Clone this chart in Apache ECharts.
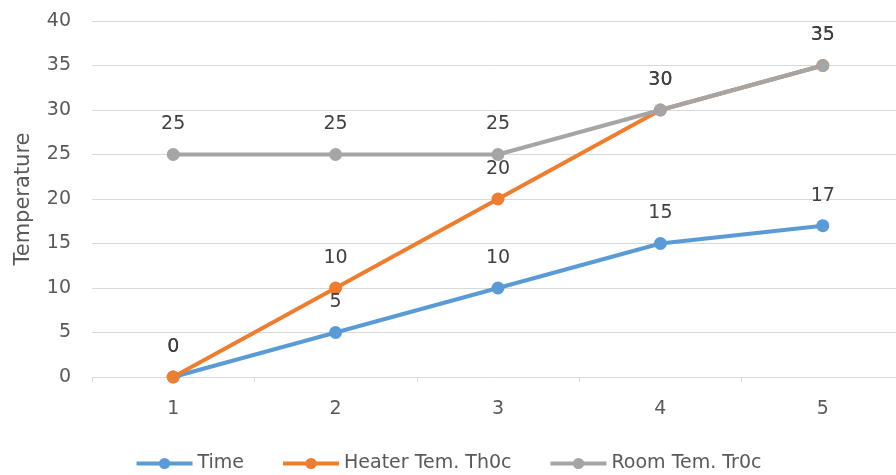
<!DOCTYPE html>
<html><head><meta charset="utf-8">
<script src="https://cdn.jsdelivr.net/npm/echarts@6/dist/echarts.min.js"></script>
<style>html,body{margin:0;padding:0;background:#fff}#c{width:896px;height:475px}</style>
</head><body><div id="c"></div>
<script>
const categories = ['1', '2', '3', '4', '5'];
const timeValues = [0, 5, 10, 15, 17];
const heaterValues = [0, 10, 20, 30, 35];
const roomValues = [25, 25, 25, 30, 35];
const seriesNames = ['Time', 'Heater Tem. Th0c', 'Room Tem. Tr0c'];
const colors = ['#5b9bd5', '#ed7d31', '#a5a5a5'];
const FONT = '"DejaVu Sans", sans-serif';

function mk(name, data, color) {
  return {
    name, type: 'line', data,
    symbol: 'circle', symbolSize: 13,
    lineStyle: { width: 4, color },
    itemStyle: { color },
    label: { show: true, position: 'top', distance: 14, fontSize: 19, color: '#404040', fontFamily: FONT },
    emphasis: { disabled: true },
    animation: false
  };
}
const chart = echarts.init(document.getElementById('c'));
chart.setOption({
  animation: false,
  color: colors,
  grid: { left: 92, right: -8, top: 21, bottom: 98, containLabel: false, outerBoundsMode: 'none' },
  legend: {
    top: 449, left: 'center', itemWidth: 56, itemHeight: 14, itemGap: 37,
    lineStyle: { width: 4 },
    textStyle: { fontSize: 19, color: '#595959', fontFamily: FONT }
  },
  xAxis: {
    type: 'category', data: categories, boundaryGap: true,
    axisLine: { lineStyle: { color: '#d9d9d9', width: 1 } },
    axisTick: { show: true, length: 5, lineStyle: { color: '#d9d9d9' } },
    axisLabel: { fontSize: 19, color: '#595959', margin: 23, fontFamily: FONT }
  },
  yAxis: {
    type: 'value', min: 0, max: 40, interval: 5,
    name: 'Temperature', nameLocation: 'middle', nameGap: 58, nameRotate: 90,
    nameTextStyle: { fontSize: 21, color: '#595959', fontFamily: FONT },
    axisLine: { show: false }, axisTick: { show: false },
    axisLabel: { fontSize: 19, color: '#595959', margin: 21, fontFamily: FONT },
    splitLine: { lineStyle: { color: '#d9d9d9', width: 1 } }
  },
  series: [
    mk(seriesNames[0], timeValues, colors[0]),
    mk(seriesNames[1], heaterValues, colors[1]),
    mk(seriesNames[2], roomValues, colors[2])
  ]
});
</script></body></html>
